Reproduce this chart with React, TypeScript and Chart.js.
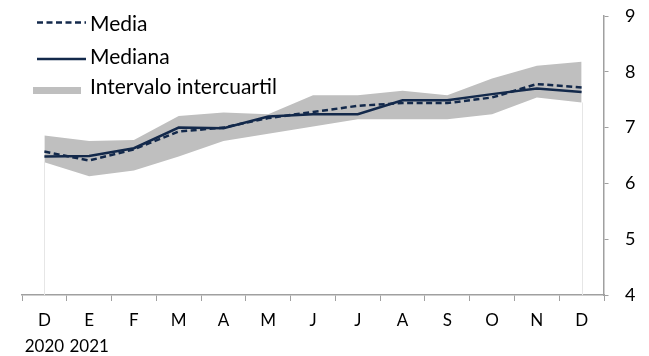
import React, { useEffect, useRef } from "react";
import { Chart, registerables } from "chart.js";

Chart.register(...registerables);

const categories: string[][] = [
  ["D", "2020"], ["E", "2021"], ["F"], ["M"], ["A"], ["M"], ["J"], ["J"], ["A"], ["S"], ["O"], ["N"], ["D"],
];
const media = [6.57, 6.41, 6.61, 6.93, 7.0, 7.17, 7.28, 7.39, 7.44, 7.44, 7.54, 7.78, 7.72];
const mediana = [6.48, 6.49, 6.63, 7.0, 6.99, 7.2, 7.24, 7.24, 7.49, 7.49, 7.6, 7.7, 7.64];
const p25 = [6.38, 6.13, 6.23, 6.48, 6.76, 6.89, 7.02, 7.15, 7.15, 7.15, 7.24, 7.54, 7.45];
const p75 = [6.86, 6.76, 6.78, 7.21, 7.27, 7.24, 7.58, 7.58, 7.66, 7.58, 7.88, 8.11, 8.18];
const yTicks = [4, 5, 6, 7, 8, 9];
const legendLabels = ["Media", "Mediana", "Intervalo intercuartil"];

const NAVY = "#13294B";
const BAND = "#BFBFBF";
const AXIS = "#A0A0A0";
const FONT = "Lato";

const edgePlugin = {
  id: "edges",
  beforeDatasetsDraw(chart: any) {
    const { ctx, scales } = chart;
    const x = scales.x, y = scales.y;
    const idx = [0, p25.length - 1];
    ctx.save();
    ctx.strokeStyle = "#E6E6E6";
    ctx.lineWidth = 1;
    idx.forEach((i) => {
      const px = Math.round(x.getPixelForValue(i)) + 0.5;
      ctx.beginPath();
      ctx.moveTo(px, y.getPixelForValue(p25[i]));
      ctx.lineTo(px, y.getPixelForValue(yTicks[0]));
      ctx.stroke();
    });
    ctx.restore();
  },
};

const legendPlugin = {
  id: "customLegend",
  afterDraw(chart: any) {
    const { ctx } = chart;
    ctx.save();
    ctx.strokeStyle = NAVY;
    ctx.lineWidth = 2.5;
    ctx.setLineDash([6, 3.5]);
    ctx.beginPath();
    ctx.moveTo(37, 22.5);
    ctx.lineTo(86, 22.5);
    ctx.stroke();
    ctx.setLineDash([]);
    ctx.beginPath();
    ctx.moveTo(37, 59);
    ctx.lineTo(86, 59);
    ctx.stroke();
    ctx.fillStyle = BAND;
    ctx.fillRect(33, 87, 48, 7);
    ctx.fillStyle = "#000";
    ctx.font = `21px ${FONT}`;
    ctx.textBaseline = "middle";
    ctx.textAlign = "left";
    ctx.fillText(legendLabels[0], 90, 24);
    ctx.fillText(legendLabels[1], 90, 57);
    ctx.fillText(legendLabels[2], 90, 87);
    ctx.restore();
  },
};

export default function App() {
  const ref = useRef<HTMLCanvasElement>(null);
  useEffect(() => {
    if (!ref.current) return;
    const chart = new Chart(ref.current, {
      type: "line",
      data: {
        labels: categories as any,
        datasets: [
          {
            label: legendLabels[0],
            data: media,
            borderColor: NAVY,
            borderWidth: 2.5,
            borderDash: [6, 3.5],
            pointRadius: 0,
            fill: false,
            tension: 0,
          },
          {
            label: legendLabels[1],
            data: mediana,
            borderColor: NAVY,
            borderWidth: 2.5,
            pointRadius: 0,
            fill: false,
            tension: 0,
          },
          {
            label: "p25",
            data: p25,
            borderWidth: 0,
            borderColor: "rgba(0,0,0,0)",
            pointRadius: 0,
            fill: false,
            tension: 0,
          },
          {
            label: legendLabels[2],
            data: p75,
            borderWidth: 0,
            borderColor: "rgba(0,0,0,0)",
            backgroundColor: BAND,
            pointRadius: 0,
            fill: "-1",
            tension: 0,
          },
        ],
      },
      options: {
        responsive: false,
        animation: false,
        layout: { padding: { left: 22, top: 16, right: 0, bottom: 0 } },
        plugins: { legend: { display: false }, tooltip: { enabled: false } },
        scales: {
          x: {
            offset: true,
            grid: {
              offset: true,
              drawOnChartArea: false,
              drawTicks: true,
              tickLength: 6,
              color: AXIS,
            },
            border: { color: AXIS, width: 1.5 },
            ticks: {
              color: "#000",
              padding: 7,
              maxRotation: 0,
              autoSkip: false,
              font: { family: FONT, size: 17, lineHeight: 1.53 },
            },
            afterFit(scale: any) {
              scale.height = 61;
            },
          },
          y: {
            position: "right",
            min: 4,
            max: 9,
            ticks: {
              stepSize: 1,
              color: "#000",
              padding: 0,
              font: { family: FONT, size: 18 },
            },
            grid: {
              drawOnChartArea: false,
              drawTicks: true,
              tickLength: 21,
              tickBorderDash: [4, 60],
              color: AXIS,
            },
            border: { color: AXIS, width: 1.5 },
            afterFit(scale: any) {
              scale.width = 45;
            },
          },
        },
      },
      plugins: [edgePlugin, legendPlugin],
    });
    return () => chart.destroy();
  }, []);
  return (
    <div style={{ position: "absolute", left: 0, top: 0, width: 649, height: 356 }}>
      <canvas ref={ref} width={649} height={356} />
    </div>
  );
}
